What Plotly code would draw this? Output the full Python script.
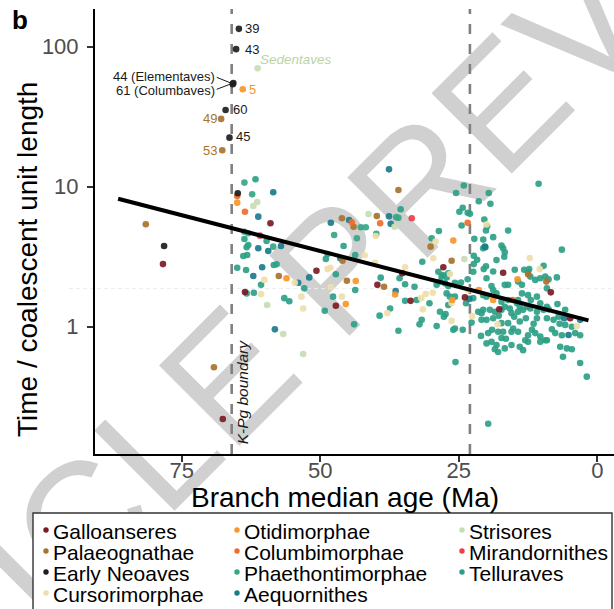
import math
import plotly.graph_objects as go

# ---------------- data (branch median age in Ma, time / coalescent unit length) -------------
galloanseres_age = [78.4, 67.6, 59.0, 63.6, 50.7, 47.2, 39.7, 35.2, 33.7, 27.8, 23.9, 17.0, 17.7, 8.4, 4.9]
galloanseres_val = [2.80, 0.219, 5.48, 1.77, 2.51, 1.41, 1.99, 2.41, 1.53, 2.66, 1.62, 2.43, 1.33, 1.76, 1.15]

palaeognathae_age = [67.9, 67.7, 81.5, 69.2, 35.9, 39.8, 46.1, 44.0, 46.0, 57.5, 45.2, 38.5, 30.1, 26.3, 12.5, 9.2]
palaeognathae_val = [30.5, 18.2, 5.39, 0.513, 9.47, 6.18, 5.95, 5.18, 2.96, 2.30, 2.13, 1.93, 3.73, 2.96, 2.37, 2.10]

early_neoaves_age = [64.7, 65.2, 65.8, 65.7, 67.1, 66.4, 78.2, 64.9]
early_neoaves_val = [134, 96, 54, 55, 35.3, 22.4, 3.77, 8.97]

cursorimorphae_age = [60.1, 60.7, 54.6, 53.4, 53.1, 42.0, 40.1, 40.0, 48.7, 48.2, 48.1, 46.1, 34.7, 37.9,
                      31.8, 31.0, 29.7, 31.5, 29.2, 29.6, 20.0, 12.2, 10.4, 26.6, 23.3, 26.3, 26.3, 22.6,
                      18.0, 3.7]
cursorimorphae_val = [2.16, 1.71, 2.06, 1.64, 1.35, 3.24, 2.86, 4.44, 2.58, 2.64, 1.92, 1.64, 2.66, 1.25,
                      1.60, 1.71, 1.75, 1.33, 4.05, 3.08, 5.37, 3.09, 2.58, 2.38, 1.83, 1.47, 1.10, 1.19,
                      1.04, 1.01]

otidimorphae_age = [64.0, 65.0, 56.1, 43.6, 36.5, 45.4, 26.0, 14.4, 21.4, 18.8, 26.2]
otidimorphae_val = [49.6, 7.69, 2.22, 2.12, 1.70, 1.45, 4.12, 2.18, 1.83, 1.55, 1.55]

columbimorphae_age = [65.0, 63.6, 44.3, 39.2, 23.4, 15.3]
columbimorphae_val = [8.58, 6.63, 5.57, 5.48, 5.52, 1.55]

strisores_age = [61.3, 62.1, 61.4, 59.6, 56.7, 53.1, 41.3, 36.6, 24.0]
strisores_val = [70.1, 7.28, 7.78, 1.43, 0.887, 0.638, 6.38, 5.18, 3.04]

mirandornithes_age = [60.9, 33.5]
mirandornithes_val = [4.47, 5.95]

aequornithes_age = [61.2, 58.5, 61.2, 59.4, 57.1, 62.1, 60.5, 54.0, 52.0, 58.2, 48.1, 44.8, 46.4, 37.6,
                    37.3, 36.4, 37.6, 20.3, 6.0, 5.2, 3.1, 23.1]
aequornithes_val = [6.11, 9.12, 3.63, 3.47, 3.77, 2.30, 2.66, 2.06, 2.25, 0.958, 5.53, 5.78, 3.08, 6.14,
                    5.43, 1.80, 13.3, 3.73, 1.15, 0.873, 1.12, 1.58]

phaethontimorphae_age = [63.7, 62.3, 63.7, 63.0, 58.5, 47.5, 42.7, 41.8, 36.3, 35.9, 43.4, 39.9]
phaethontimorphae_val = [10.7, 8.83, 4.77, 4.65, 3.73, 4.52, 5.13, 5.13, 6.06, 5.99, 4.28, 4.60]

telluraves_age = [
    61.7, 63.7, 63.0, 63.3, 59.7, 63.9, 63.2, 65.0, 63.4, 58.4, 57.9, 60.7, 63.3, 62.0, 56.5, 55.6, 52.9,
    35.5, 45.8, 48.7, 49.0, 43.7, 47.2, 49.2, 47.7, 43.7, 39.1, 34.7, 33.0, 35.7, 39.3, 37.4, 43.9, 35.9,
    34.7, 32.6, 30.3, 31.7, 32.1, 29.0, 27.7, 27.4, 26.9, 29.9, 28.6, 31.6, 25.6, 19.7,
    29.0, 28.1, 28.7, 27.9, 27.2, 28.4, 27.5, 26.9, 26.9, 28.4,
    25.5, 24.1, 24.9, 24.3, 23.4, 23.0, 24.5, 21.4, 19.6, 19.3, 20.4, 19.9, 20.1, 16.1,
    22.2, 20.6, 18.8, 20.6, 20.2, 17.3, 17.0, 16.7, 16.8, 22.3, 21.7,
    22.3, 20.1, 20.5, 18.8, 14.9, 13.2, 12.3, 9.7, 6.4, 10.6, 7.3, 8.8,
    22.4, 18.2, 12.1, 12.5, 11.2, 10.3, 9.4,
    25.7, 20.0, 19.1, 18.8, 16.7, 16.1, 14.3, 13.6, 9.1, 7.2, 5.8,
    27.2, 26.6, 25.7, 22.4, 20.6, 20.0, 18.2, 17.3, 16.1, 14.3, 13.6, 12.5, 12.0, 10.9, 10.3, 9.1, 14.5, 14.0,
    23.7, 23.4, 24.6,
    21.5, 20.9, 20.6, 19.4, 18.5, 17.3, 16.7, 15.8, 15.5, 14.3, 13.4, 12.7, 12.1, 10.9, 9.7, 8.8,
    22.7, 20.9, 20.0, 18.8, 17.3, 16.1, 15.2, 14.0, 12.9, 10.9, 9.1, 7.9, 7.0, 4.6, 5.8,
    25.7, 26.0, 24.3,
    19.7, 17.9, 17.0, 15.5, 14.3, 12.5, 11.2, 10.3, 9.1, 7.6, 6.4, 4.0, 3.1,
    20.0, 19.1, 18.2, 17.3, 15.5, 14.0, 12.5, 10.3, 9.4,
    18.5, 17.9, 13.4, 16.7, 6.7, 5.5, 4.6, 6.2, 3.1, 1.9,
    21.0, 19.0, 16.5, 13.0, 11.8, 8.2, 6.8, 15.0, 11.5, 17.8,
]
telluraves_val = [
    11.3, 4.23, 3.83, 3.69, 4.09, 3.20, 3.25, 2.64, 2.54, 2.76, 2.79, 1.99, 1.73, 1.75, 1.60, 1.52, 1.88,
    6.90, 3.77, 3.31, 3.05, 3.25, 2.37, 1.30, 1.64, 1.83, 2.24, 2.01, 1.93, 2.22, 1.20, 1.35, 1.04, 0.936,
    1.53, 1.55, 1.47, 1.12, 1.04, 1.01, 1.18, 1.23, 1.43, 4.28, 4.83, 2.91, 0.559, 0.203,
    1.99, 2.28, 2.47, 2.34, 2.25, 2.10, 2.04, 1.95, 2.41, 1.28,
    9.02, 10.2, 6.63, 7.08, 6.51, 6.40, 5.28, 7.87, 9.02, 7.56, 5.83, 5.22, 4.86, 4.86,
    4.24, 4.19, 4.36, 3.63, 3.69, 3.80, 3.63, 3.40, 3.16, 3.21, 3.01,
    2.80, 2.70, 2.58, 2.48, 2.55, 2.55, 2.58, 2.72, 3.55, 10.5, 2.25, 2.18,
    2.47, 2.99, 2.28, 2.47, 2.16, 2.22, 2.28,
    2.06, 2.22, 1.95, 1.83, 1.99, 1.99, 2.10, 1.99, 1.88, 1.45, 1.32,
    1.73, 1.64, 1.64, 1.60, 1.68, 1.64, 1.73, 1.51, 1.55, 1.55, 1.73, 1.68, 1.55, 1.64, 1.47, 1.39, 1.47, 1.39,
    1.47, 2.18, 2.07,
    1.28, 1.25, 1.32, 1.32, 1.28, 1.32, 1.39, 1.35, 1.25, 1.28, 1.32, 1.39, 1.35, 1.28, 1.32, 1.33,
    1.07, 1.12, 1.12, 1.15, 1.06, 1.06, 0.97, 1.09, 1.15, 1.15, 1.15, 1.12, 1.18, 1.00, 1.03,
    0.97, 0.95, 0.95,
    0.90, 0.92, 0.92, 0.92, 0.92, 0.87, 0.90, 0.85, 0.80, 0.90, 0.87, 0.90, 0.87,
    0.76, 0.78, 0.74, 0.83, 0.74, 0.72, 0.78, 0.78, 0.80,
    0.69, 0.66, 0.68, 0.70, 0.72, 0.70, 0.69, 0.61, 0.55, 0.44,
    0.86, 0.95, 0.82, 0.80, 0.95, 0.96, 1.05, 1.18, 1.05, 1.20,
]

# fitted trend (log-linear), end points
trend_age = [86.5, 1.6]
trend_val = [8.2, 1.11]

# boundaries (Ma)
kpg_age = 66.0
neogene_age = 23.0

# point labels
label_text = ["39", "43", "5", "60", "45", "49", "53", "44 (Elementaves)", "61 (Columbaves)"]
label_age = [63.8, 63.8, 63.1, 65.9, 65.4, 68.4, 68.4, 68.8, 68.8]
label_val = [134, 96, 49.6, 35.5, 22.7, 30.8, 18.1, 61.1, 48.5]
label_side = ["left", "left", "left", "left", "left", "right", "right", "right", "right"]
label_group = ["Early Neoaves", "Early Neoaves", "Otidimorphae", "Early Neoaves", "Early Neoaves",
               "Palaeognathae", "Palaeognathae", "Early Neoaves", "Early Neoaves"]
leader_age = [[68.7, 66.3], [68.7, 66.3]]
leader_val = [[60.4, 55.3], [49.6, 53.9]]
sedentaves_age, sedentaves_val = 61.1, 80.4
kpg_label_age, kpg_label_val = 64.0, 0.344

clades = [
    ("Galloanseres", galloanseres_age, galloanseres_val, "#7a1b24"),
    ("Palaeognathae", palaeognathae_age, palaeognathae_val, "#a8732b"),
    ("Early Neoaves", early_neoaves_age, early_neoaves_val, "#1e1e1e"),
    ("Cursorimorphae", cursorimorphae_age, cursorimorphae_val, "#eedeaa"),
    ("Otidimorphae", otidimorphae_age, otidimorphae_val, "#f7962a"),
    ("Columbimorphae", columbimorphae_age, columbimorphae_val, "#ef6c2c"),
    ("Phaethontimorphae", phaethontimorphae_age, phaethontimorphae_val, "#36a784"),
    ("Aequornithes", aequornithes_age, aequornithes_val, "#1b7b8c"),
    ("Strisores", strisores_age, strisores_val, "#c8dcb4"),
    ("Mirandornithes", mirandornithes_age, mirandornithes_val, "#ec3f48"),
    ("Telluraves", telluraves_age, telluraves_val, "#2e9f86"),
]
color_of = {c[0]: c[3] for c in clades}

legend_columns = [
    ["Galloanseres", "Palaeognathae", "Early Neoaves", "Cursorimorphae"],
    ["Otidimorphae", "Columbimorphae", "Phaethontimorphae", "Aequornithes"],
    ["Strisores", "Mirandornithes", "Telluraves"],
]

# ---------------- layout geometry (pixels of the 614x609 canvas) ----------------
W, H = 614, 609
ML, MR, MT, MB = 95, 0, 9, 155
PW, PH = W - ML - MR, H - MT - MB
FONT = "Liberation Sans, Arial, Helvetica, sans-serif"


def pxx(x):
    return (x - ML) / PW


def pxy(y):
    return (H - MB - y) / PH


fig = go.Figure()

draw_order = ["Telluraves", "Phaethontimorphae", "Aequornithes", "Cursorimorphae", "Strisores",
              "Palaeognathae", "Otidimorphae", "Columbimorphae", "Galloanseres", "Mirandornithes",
              "Early Neoaves"]
cl = {c[0]: c for c in clades}
for name in draw_order:
    _, ages, vals, col = cl[name]
    fig.add_trace(go.Scatter(
        x=ages, y=vals, mode="markers", name=name, showlegend=False,
        marker=dict(size=6.6, color=col, opacity=0.92, line=dict(width=0)),
        cliponaxis=False, hoverinfo="skip"))

for la, lv in zip(leader_age, leader_val):
    fig.add_trace(go.Scatter(x=la, y=lv, mode="lines", showlegend=False, hoverinfo="skip",
                             line=dict(color="#1a1a1a", width=1)))

fig.add_trace(go.Scatter(x=trend_age, y=trend_val, mode="lines", showlegend=False, hoverinfo="skip",
                         line=dict(color="black", width=4)))

shapes = []
# watermark
shapes.append(dict(type="rect", xref="paper", yref="paper",
                   x0=pxx(296) - 0.1, x1=pxx(296) + 0.1, y0=pxy(286) - 0.1, y1=pxy(286) + 0.1,
                   line=dict(width=0), fillcolor="rgba(0,0,0,0)", layer="below",
                   label=dict(text="ARTICLE PREVIEW", textangle=-45, textposition="middle center",
                              font=dict(family=FONT, size=165, color="#d0d0d0"))))
# faint horizontal rule
shapes.append(dict(type="line", xref="paper", yref="y", x0=pxx(69), x1=1.0, y0=1.87, y1=1.87,
                   line=dict(color="#ececec", width=1, dash="4px,3px"), layer="below"))
# boundaries
for a in (kpg_age, neogene_age):
    shapes.append(dict(type="line", xref="x", yref="paper", x0=a, x1=a, y0=0, y1=1,
                       line=dict(color="#808080", width=2.6, dash="10px,10px"), layer="below"))

# legend box
shapes.append(dict(type="rect", xref="paper", yref="paper", x0=pxx(33), x1=pxx(612),
                   y0=pxy(660), y1=pxy(513), line=dict(color="#333333", width=1.4),
                   fillcolor="white", layer="above"))

annotations = []
col_dot_x = [46, 237, 462]
col_text_x = [52, 243, 468]
row_y = [530, 551, 572, 593]
for ci, names in enumerate(legend_columns):
    for ri, name in enumerate(names):
        shapes.append(dict(type="circle", xref="paper", yref="paper", xsizemode="pixel",
                           ysizemode="pixel", xanchor=pxx(col_dot_x[ci]), yanchor=pxy(row_y[ri]),
                           x0=-2.7, x1=2.7, y0=-2.7, y1=2.7, fillcolor=color_of[name],
                           line=dict(width=0), layer="above"))
        annotations.append(dict(text=name, xref="paper", yref="paper", x=pxx(col_text_x[ci]),
                                y=pxy(row_y[ri] + 1), xanchor="left", yanchor="middle",
                                showarrow=False, borderpad=0,
                                font=dict(family=FONT, size=21, color="black")))

# point labels
for t, a, v, side, g in zip(label_text, label_age, label_val, label_side, label_group):
    annotations.append(dict(text=t, x=a, y=math.log10(v), yref="y", xref="x", xanchor=side,
                            yanchor="middle", showarrow=False, borderpad=0,
                            font=dict(family=FONT, size=13,
                                      color=("#1a1a1a" if g == "Early Neoaves" else color_of[g]))))
annotations.append(dict(text="<i>Sedentaves</i>", x=sedentaves_age, y=math.log10(sedentaves_val),
                        xanchor="left", yanchor="middle", showarrow=False, borderpad=0,
                        font=dict(family=FONT, size=13.5, color="#bcd4a4")))
annotations.append(dict(text="<i>K-Pg boundary</i>", x=kpg_label_age, y=math.log10(kpg_label_val),
                        textangle=-90, xanchor="center", yanchor="middle", showarrow=False,
                        font=dict(family=FONT, size=15.5, color="#1a1a1a")))
# panel tag and axis titles
annotations.append(dict(text="<b>b</b>", xref="paper", yref="paper", x=pxx(19.5), y=pxy(20),
                        xanchor="center", yanchor="middle", showarrow=False,
                        font=dict(family=FONT, size=26, color="black")))
annotations.append(dict(text="Time / coalescent unit length", xref="paper", yref="paper",
                        x=pxx(27), y=pxy(260), textangle=-90, xanchor="center", yanchor="middle",
                        showarrow=False, font=dict(family=FONT, size=28, color="black")))
annotations.append(dict(text="Branch median age (Ma)", xref="paper", yref="paper",
                        x=pxx(345), y=pxy(498), xanchor="center", yanchor="middle",
                        showarrow=False, font=dict(family=FONT, size=28, color="black")))

fig.update_layout(
    width=W, height=H, margin=dict(l=ML, r=MR, t=MT, b=MB, pad=0),
    paper_bgcolor="white", plot_bgcolor="rgba(0,0,0,0)", showlegend=False,
    shapes=shapes, annotations=annotations,
    font=dict(family=FONT),
    xaxis=dict(range=[90.67, -3.01], tickvals=[75, 50, 25, 0], ticktext=["75", "50", "25", "0"],
               showgrid=False, zeroline=False, showline=True, linecolor="black", linewidth=2,
               ticks="outside", ticklen=6, tickwidth=1.5, tickcolor="#333333", ticklabelstandoff=-10,
               tickfont=dict(family=FONT, size=22, color="#4d4d4d")),
    yaxis=dict(type="log", range=[-0.909, 2.269], tickvals=[1, 10, 100], ticktext=["1", "10", "100"],
               showgrid=False, zeroline=False, showline=True, linecolor="black", linewidth=2,
               ticks="outside", ticklen=6, tickwidth=1.5, tickcolor="#333333", ticklabelstandoff=4,
               tickfont=dict(family=FONT, size=22, color="#4d4d4d")),
)

fig.write_html("out.html")
